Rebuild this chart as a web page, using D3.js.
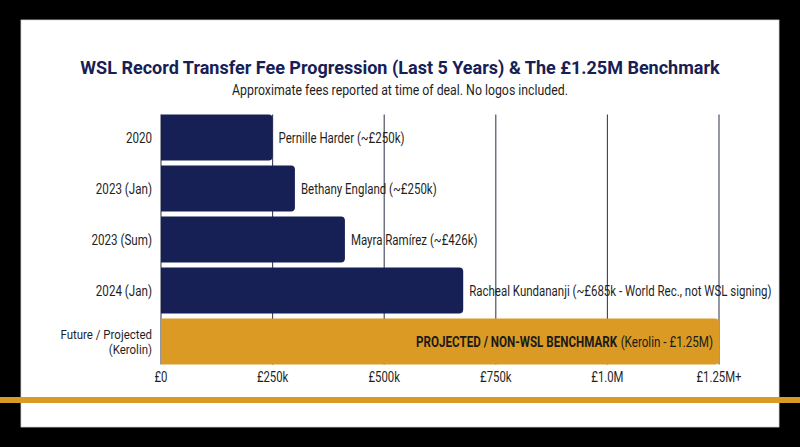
<!DOCTYPE html>
<html>
<head>
<meta charset="utf-8">
<script src="https://cdn.jsdelivr.net/npm/d3@7"></script>
<style>
  html, body { margin: 0; padding: 0; background: #000; }
  svg { display: block; }
  text { font-family: Roboto, "Noto Sans", sans-serif; }
</style>
</head>
<body>
<svg id="chart" width="800" height="447"></svg>
<script>
// ---- Data ----
const categories = ["2020", "2023 (Jan)", "2023 (Sum)", "2024 (Jan)", "Future / Projected\n(Kerolin)"];
const feesK = [250, 300, 412, 677, 1250];
const barLabels = [
  "Pernille Harder (~£250k)",
  "Bethany England (~£250k)",
  "Mayra Ramírez (~£426k)",
  "Racheal Kundananji (~£685k - World Rec., not WSL signing)",
  ""
];
const benchmarkBold = "PROJECTED / NON-WSL BENCHMARK";
const benchmarkRest = "(Kerolin - £1.25M)";
const tickValues = [0, 250, 500, 750, 1000, 1250];
const tickLabels = ["£0", "£250k", "£500k", "£750k", "£1.0M", "£1.25M+"];
const titleText = "WSL Record Transfer Fee Progression (Last 5 Years) & The £1.25M Benchmark";
const subtitleText = "Approximate fees reported at time of deal. No logos included.";

// ---- Styles ----
const NAVY = "#172054";
const GOLD = "#db9a23";
const TEXT = "#1f1f1f";

const svg = d3.select("#chart");
const W = 800, H = 447;

// frame
svg.append("rect").attr("x", 0).attr("y", 0).attr("width", W).attr("height", H).attr("fill", "#000");
svg.append("rect").attr("x", 21).attr("y", 20).attr("width", 758).attr("height", 407)
  .attr("fill", "#fff").attr("stroke", "#d8d8d8").attr("stroke-width", 0.8);

const x = d3.scaleLinear().domain([0, 1250]).range([161, 719]);
const y = d3.scaleBand().domain(categories).range([112, 367]).paddingInner(0.1).paddingOuter(0.05);

// condensed text: drawn at origin, positioned + horizontally scaled by transform
function ctext(parent, tx, ty, f, anchor) {
  return parent.append("text")
    .attr("transform", `translate(${tx},${ty}) scale(${f},1)`)
    .attr("x", 0).attr("y", 0)
    .attr("text-anchor", anchor || "start");
}

// title
const title = svg.append("text")
  .attr("x", 400).attr("y", 74).attr("text-anchor", "middle")
  .attr("font-size", 18.5).attr("font-weight", 700).attr("fill", NAVY)
  .text(titleText);
{
  const f = 640 / title.node().getComputedTextLength();
  title.attr("x", 0).attr("y", 0).attr("transform", `translate(400,74) scale(${f},1)`);
}
ctext(svg, 400, 95, 0.88, "middle")
  .attr("font-size", 14).attr("fill", TEXT).text(subtitleText);

// gridlines
const gy0 = y(categories[0]);
const gy1 = y(categories[categories.length - 1]) + y.bandwidth();
svg.append("g").selectAll("line").data(tickValues).join("line")
  .attr("x1", d => x(d)).attr("x2", d => x(d))
  .attr("y1", gy0).attr("y2", gy1)
  .attr("stroke", "#3b4058").attr("stroke-width", 1.1);

// bars with rounded right corners
function roundedRight(x0, y0, w, h, r) {
  return `M${x0},${y0}H${x0 + w - r}A${r},${r} 0 0 1 ${x0 + w},${y0 + r}V${y0 + h - r}A${r},${r} 0 0 1 ${x0 + w - r},${y0 + h}H${x0}Z`;
}
const rows = categories.map((c, i) => ({ c, v: feesK[i], label: barLabels[i], last: i === categories.length - 1 }));

svg.append("g").selectAll("path").data(rows).join("path")
  .attr("d", d => roundedRight(x(0), y(d.c), x(d.v) - x(0), y.bandwidth(), 4))
  .attr("fill", d => d.last ? GOLD : NAVY);

// bar labels
const gl = svg.append("g");
rows.filter(d => !d.last).forEach(d => {
  ctext(gl, x(d.v) + 6, y(d.c) + y.bandwidth() / 2 + 5, 0.82)
    .attr("font-size", 14).attr("fill", TEXT).text(d.label);
});

// benchmark label inside gold bar (two pieces, right aligned)
const lastRow = rows[rows.length - 1];
const by = y(lastRow.c) + y.bandwidth() / 2 + 5;
const bf = 0.83;
const bmRest = ctext(svg, x(lastRow.v) - 6, by, bf, "end")
  .attr("font-size", 14).attr("fill", "#1a1a1a").text(benchmarkRest);
const restW = bmRest.node().getComputedTextLength() * bf;
ctext(svg, x(lastRow.v) - 6 - restW - 3.5, by, bf, "end")
  .attr("font-size", 14).attr("font-weight", 700).attr("fill", "#1a1a1a").text(benchmarkBold);

// category labels (multi-line as tspans in a single text)
const gc = svg.append("g");
categories.forEach(c => {
  const lines = c.split("\n");
  const multi = lines.length > 1;
  const lh = 15.8;
  const fs = multi ? 13.5 : 14;
  const cy = y(c) + y.bandwidth() / 2;
  const t = ctext(gc, 152, cy + 5 - (lines.length - 1) * lh / 2, multi ? 0.85 : 0.83, "end")
    .attr("font-size", fs).attr("fill", TEXT);
  lines.forEach((ln, j) => {
    t.append("tspan").attr("x", 0).attr("dy", j === 0 ? 0 : lh).text(ln);
  });
});

// x-axis tick labels
const gx = svg.append("g");
tickValues.forEach((v, i) => {
  ctext(gx, x(v), 382, 0.81, "middle")
    .attr("font-size", 14).attr("fill", TEXT).text(tickLabels[i]);
});

// gold rule
svg.append("rect").attr("x", 0).attr("y", 397).attr("width", W).attr("height", 6).attr("fill", GOLD);
</script>
</body>
</html>
